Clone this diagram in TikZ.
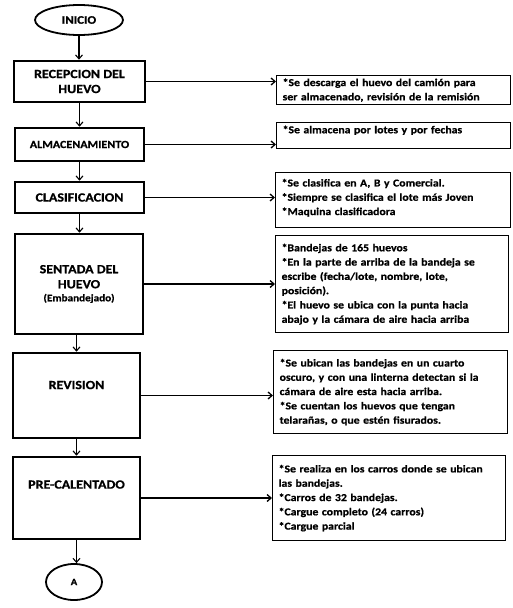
\documentclass[tikz,border=0pt]{standalone}
\usepackage{fontspec}
\setmainfont{Carlito}[FakeStretch=1.12, BoldFeatures={FakeBold=0.8}]
\usetikzlibrary{arrows.meta,shapes.geometric}
\tikzset{
  lbox/.style={draw, line width=2.6pt, align=center, font=\bfseries\fontsize{12.5}{15}\selectfont, inner sep=0pt},
  rbox/.style={draw, line width=1.3pt, align=left, anchor=north west, font=\bfseries\fontsize{10.5}{14.3}\selectfont, inner xsep=6pt, inner ysep=0pt},
  term/.style={draw, ellipse, line width=1.8pt, inner sep=0pt, font=\bfseries},
  varrow/.style={line width=1.1pt, -{Straight Barb[length=4pt,width=7pt,line width=1.1pt]}},
  harrow/.style={line width=1.1pt, -{Straight Barb[length=4pt,width=7pt,line width=1.3pt]}}
}
\begin{document}
\begin{tikzpicture}[x=1pt,y=1pt]
\useasboundingbox (0,0) rectangle (513,-608);
% terminals
\node[term, minimum width=88pt, minimum height=30pt, font=\bfseries\fontsize{11.5}{13}\selectfont] (ini) at (79,-20) {INICIO};
% left boxes
\node[lbox, minimum width=131pt, minimum height=41pt] (b1) at (79.5,-81.5) {RECEPCION DEL\\HUEVO};
\node[lbox, minimum width=129pt, minimum height=33pt, font=\bfseries\fontsize{10.8}{12}\selectfont] (b2) at (79.5,-144.5) {ALMACENAMIENTO};
\node[lbox, minimum width=129pt, minimum height=31pt] (b3) at (79.5,-197.5) {CLASIFICACION};
\node[lbox, minimum width=128pt, minimum height=100pt] (b4) at (79,-284) {SENTADA DEL\\HUEVO\\[-2pt]{\fontsize{10}{12}\selectfont(Embandejado)}};
\node[lbox, minimum width=127pt, minimum height=85pt] (b5) at (76.5,-395.5) {REVISION\\[6pt]\mbox{}};
\node[lbox, minimum width=127pt, minimum height=82pt] (b6) at (76.5,-498) {PRE-CALENTADO\\[12pt]\mbox{}};
\node[term, minimum width=56pt, minimum height=36pt, font=\bfseries\fontsize{9.5}{11}\selectfont] (fin) at (74,-582) {A};
% right boxes
\node[rbox, text width=222pt, minimum height=29pt] (r1) at (276,-75) {*Se descarga el huevo del camión para\\ser almacenado, revisión de la remisión};
\node[rbox, text width=222pt, minimum height=26pt] (r2) at (276,-122) {*Se almacena por lotes y por fechas\\[-2pt]\mbox{}};
\node[rbox, text width=223pt, minimum height=55pt] (r3) at (275,-172) {*Se clasifica en A, B y Comercial.\\{}*Siempre se clasifica el lote más Joven\\{}*Maquina clasificadora\\[-8pt]\mbox{}};
\node[rbox, text width=221pt, minimum height=97pt] (r4) at (275,-235) {*Bandejas de 165 huevos\\{}*En la parte de arriba de la bandeja se\\escribe (fecha/lote, nombre, lote,\\posición).\\{}*El huevo se ubica con la punta hacia\\abajo y la cámara de aire hacia arriba};
\node[rbox, text width=222pt, minimum height=83pt] (r5) at (273,-350) {*Se ubican las bandejas en un cuarto\\oscuro, y con una linterna detectan si la\\cámara de aire esta hacia arriba.\\{}*Se cuentan los huevos que tengan\\telarañas, o que estén fisurados.};
\node[rbox, text width=221pt, minimum height=85pt] (r6) at (272,-455) {*Se realiza en los carros donde se ubican\\las bandejas.\\{}*Carros de 32 bandejas.\\{}*Cargue completo (24 carros)\\{}*Cargue parcial};
% vertical connectors
\draw[varrow] (ini.south) -- (ini.south |- b1.north);
\draw[varrow] (b1.south) -- (b1.south |- b2.north);
\draw[varrow] (b2.south) -- (b2.south |- b3.north);
\draw[varrow] (b3.south) -- (b3.south |- b4.north);
\draw[varrow] (b5.north |- b4.south) -- (b5.north);
\draw[varrow] (b5.south) -- (b5.south |- b6.north);
\draw[varrow] (b6.south) -- (b6.south |- fin.north);
% horizontal connectors
\draw[harrow] (b1.east) -- (b1.east -| r1.west);
\draw[harrow] (b2.east) -- (b2.east -| r2.west);
\draw[harrow] (b3.east) -- (b3.east -| r3.west);
\draw[harrow] (b4.east) -- (b4.east -| r4.west);
\draw[harrow] (b5.east) -- (b5.east -| r5.west);
\draw[harrow] (b6.east) -- (b6.east -| r6.west);
\end{tikzpicture}
\end{document}
